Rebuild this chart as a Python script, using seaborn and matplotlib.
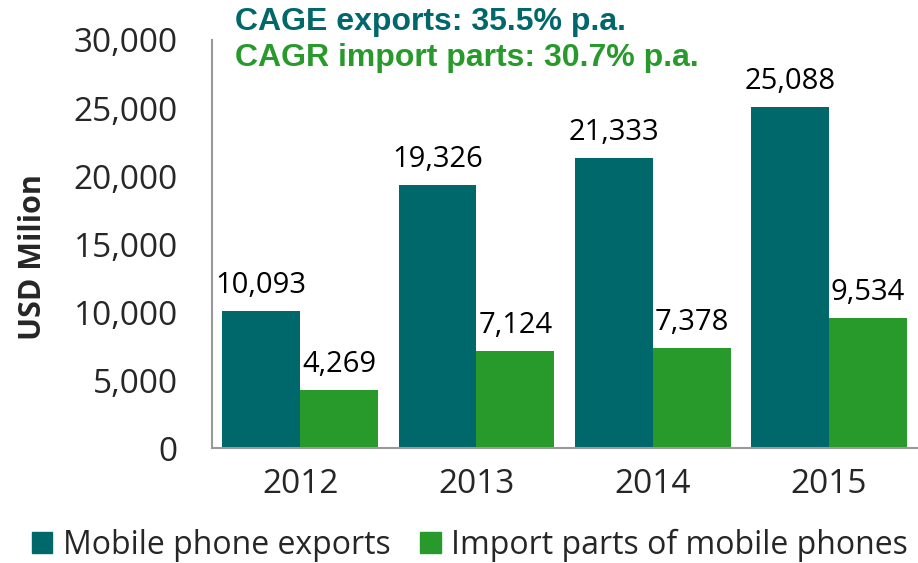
import matplotlib
matplotlib.use('Agg')
import matplotlib.pyplot as plt
import seaborn as sns
import pandas as pd

years = ['2012', '2013', '2014', '2015']
exports = [10093, 19326, 21333, 25088]
imports = [4269, 7124, 7378, 9534]
series = ['Mobile phone exports', 'Import parts of mobile phones']
colors = ['#00676a', '#279a2b']

df = pd.DataFrame({
    'year': years * 2,
    'value': exports + imports,
    'series': [series[0]] * 4 + [series[1]] * 4,
})

sns.set_style('white')
plt.rcParams['font.family'] = ['Open Sans', 'DejaVu Sans']

fig = plt.figure(figsize=(9.18, 5.63), dpi=100)
ax = fig.add_axes([0.231, 0.204, 0.768, 0.725])

sns.barplot(data=df, x='year', y='value', hue='series', palette=colors,
            width=0.884, ax=ax, legend=False, edgecolor='none', saturation=1)

for cont in ax.containers:
    ax.bar_label(cont, labels=[f'{v:,.0f}' for v in cont.datavalues],
                 padding=8, fontsize=21, color='black')

ax.set_ylim(0, 30000)
ax.set_xlim(-0.5, 3.5)
ax.set_yticks(range(0, 30001, 5000))
ax.set_yticklabels([f'{v:,}' for v in range(0, 30001, 5000)], fontsize=24)
ax.set_xticks(range(4))
ax.set_xticklabels(years, fontsize=24)
ax.set_xticks([-0.5, 0.5, 1.5, 2.5, 3.5], minor=True)
ax.tick_params(axis='x', which='major', length=0, pad=14)
ax.tick_params(axis='x', which='minor', length=8.6, color='#999999', width=1.5, direction='out')
ax.tick_params(axis='y', length=8.6, color='#999999', width=1.5, direction='out', pad=16)
ax.set_xlabel('')
ax.set_ylabel('USD Milion', fontsize=22, fontweight='bold')
ax.yaxis.set_label_coords(-0.233, 0.467)

for side in ['top', 'right']:
    ax.spines[side].set_visible(False)
for side in ['left', 'bottom']:
    ax.spines[side].set_color('#999999')
    ax.spines[side].set_linewidth(1.5)

fig.text(0.256, 0.961, 'CAGE exports: 35.5% p.a.', fontsize=23, fontweight='bold',
         color=colors[0], family=['Liberation Sans'], va='center')
fig.text(0.256, 0.897, 'CAGR import parts: 30.7% p.a.', fontsize=23, fontweight='bold',
         color=colors[1], family=['Liberation Sans'], va='center')

handles = [plt.Rectangle((0, 0), 1, 1, color=c) for c in colors]
fig.legend(handles, series, loc='center', bbox_to_anchor=(0.512, 0.032), ncol=2,
           frameon=False, fontsize=23, handlelength=0.65, handleheight=0.65,
           handletextpad=0.34, columnspacing=0.9, borderpad=0, borderaxespad=0)

fig.savefig('out.png', dpi=100)
